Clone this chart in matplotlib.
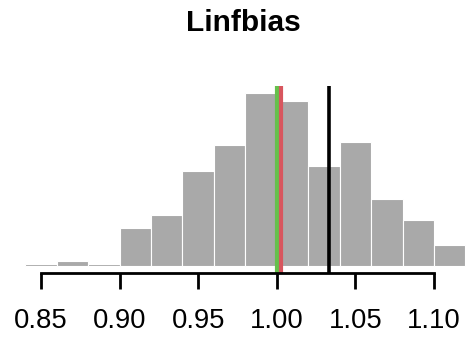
import numpy as np
import matplotlib
matplotlib.use("Agg")
import matplotlib.pyplot as plt

plt.rcParams['font.family'] = ['Liberation Sans', 'DejaVu Sans']

# histogram bins (width 0.02) and counts
bin_edges = [0.84, 0.86, 0.88, 0.90, 0.92, 0.94, 0.96, 0.98,
             1.00, 1.02, 1.04, 1.06, 1.08, 1.10, 1.12]
counts = [1, 3, 1, 23, 31, 58, 74, 106, 101, 61, 76, 41, 28, 13]

# reference lines
green_x = 1.000
red_x = 1.0025
black_x = 1.0335

xticks = [0.85, 0.90, 0.95, 1.00, 1.05, 1.10]
xtick_labels = ["0.85", "0.90", "0.95", "1.00", "1.05", "1.10"]

fig = plt.figure(figsize=(4.69, 3.44), dpi=100)
ax = fig.add_axes([0.0, 0.2073, 1.0, 0.5427])

lefts = np.array(bin_edges[:-1])
widths = np.diff(bin_edges)
ax.bar(lefts, counts, width=widths, align="edge", color="#A9A9A9",
       edgecolor="white", linewidth=0.8)

ax.axvline(green_x, color="#66C04C", lw=3)
ax.axvline(red_x, color="#D8565E", lw=3)
ax.axvline(black_x, color="black", lw=2.6)

ymax = max(counts)
ax.set_ylim(-0.04 * ymax, 1.04 * ymax)
ax.set_xlim(0.85 - 41 / 1572, 1.10 + 35 / 1572)

for s in ["top", "right", "left"]:
    ax.spines[s].set_visible(False)
ax.spines["bottom"].set_bounds(xticks[0], xticks[-1])
ax.spines["bottom"].set_linewidth(2)
ax.set_yticks([])
ax.set_xticks(xticks)
ax.set_xticklabels(xtick_labels, fontsize=19.8)
ax.tick_params(axis="x", direction="out", length=11.5, width=2, pad=14)

fig.text(243 / 469, 1 - 23 / 344, "Linfbias", ha="center", va="center",
         fontsize=21.5, fontweight="bold")

fig.savefig("out.png", dpi=100)
